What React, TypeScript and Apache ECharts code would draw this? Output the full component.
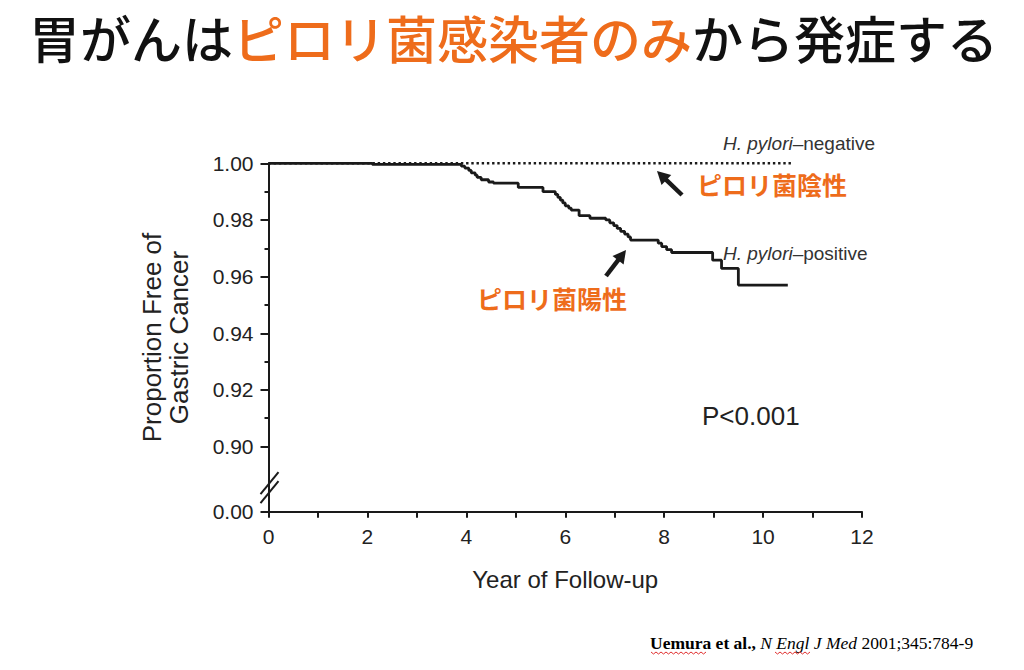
import React, { useEffect, useRef } from "react";
import * as echarts from "echarts";

// ---- data ----
const posYears = [0, 2.1, 3.9, 3.97, 4.05, 4.1, 4.18, 4.22, 4.3, 4.45, 4.55, 5.05, 5.55, 5.8, 5.85, 5.9, 5.95, 6.0, 6.07, 6.12, 6.28, 6.5, 6.82, 6.9, 6.98, 7.05, 7.12, 7.2, 7.27, 7.32, 7.88, 7.95, 8.05, 8.15, 8.98, 9.16, 9.5, 10.5];
const posValues = [1.0, 0.9996, 0.999, 0.9983, 0.9975, 0.9966, 0.9958, 0.995, 0.9942, 0.9934, 0.993, 0.9915, 0.99, 0.989, 0.988, 0.987, 0.986, 0.985, 0.9842, 0.9835, 0.9815, 0.9806, 0.98, 0.979, 0.978, 0.977, 0.976, 0.975, 0.974, 0.9729, 0.9718, 0.9706, 0.9695, 0.9685, 0.9658, 0.9629, 0.957, 0.957];
const negYears = [0, 10.57];
const negValues = [1.0, 1.0];
const yBreakValue = 0.877; // drawn as "0.00" below the axis break
const yMajorTicks = [0.877, 0.9, 0.92, 0.94, 0.96, 0.98, 1.0];
const yMinorTicks = [0.91, 0.93, 0.95, 0.97, 0.99];
const breakMarkValue = 0.885;
const xMin = 0;
const xMax = 12;

const ORANGE = "#EE6C1B";
const INK = "#1a1a1a";
const SANS = "'Liberation Sans', Arial, Helvetica, sans-serif";
const CJK = "'Noto Sans CJK JP', 'Noto Sans', sans-serif";
const SERIF = "'Liberation Serif', 'Times New Roman', serif";

function arrow(x1: number, y1: number, x2: number, y2: number) {
  // tail (x1,y1) -> tip (x2,y2)
  const dx = x2 - x1;
  const dy = y2 - y1;
  const len = Math.sqrt(dx * dx + dy * dy);
  const ux = dx / len;
  const uy = dy / len;
  const headLen = 13;
  const halfW = 7;
  const bx = x2 - ux * headLen;
  const by = y2 - uy * headLen;
  const px = -uy;
  const py = ux;
  return {
    type: "group",
    children: [
      {
        type: "line",
        shape: { x1, y1, x2: bx + ux * 2, y2: by + uy * 2 },
        style: { stroke: INK, lineWidth: 4.5 },
      },
      {
        type: "polygon",
        shape: {
          points: [
            [x2, y2],
            [bx + px * halfW, by + py * halfW],
            [bx - px * halfW, by - py * halfW],
          ],
        },
        style: { fill: INK },
      },
    ],
  };
}

function squiggle(x: number, y: number, w: number) {
  const pts: number[][] = [];
  for (let i = 0; i <= Math.round(w / 2.5); i++) {
    pts.push([x + i * 2.5, y + (i % 2 === 0 ? 0 : 2)]);
  }
  return { type: "polyline", shape: { points: pts }, style: { stroke: "#e03030", lineWidth: 1, fill: "none" } };
}

export default function App() {
  const ref = useRef<HTMLDivElement>(null);

  useEffect(() => {
    if (!ref.current) return;
    const chart = echarts.init(ref.current, null, { renderer: "svg" });

    const option: any = {
      animation: false,
      backgroundColor: "#ffffff",
      title: {
        text: "{a|胃がんは}{b|ピロリ菌感染者のみ}{a|から発症する}",
        left: 24,
        top: 4,
        textStyle: {
          rich: {
            a: { fontSize: 51, fontWeight: 500, fontFamily: CJK, color: "#111111", lineHeight: 56 },
            b: { fontSize: 51, fontWeight: 500, fontFamily: CJK, color: ORANGE, lineHeight: 56 },
          },
        },
      },
      grid: { left: 268.5, right: 162, top: 163.3, bottom: 158.3, containLabel: false },
      xAxis: {
        type: "value",
        min: xMin,
        max: xMax,
        interval: 1,
        name: "Year of Follow-up",
        nameLocation: "middle",
        nameGap: 56,
        nameTextStyle: { fontSize: 24, fontFamily: SANS, color: "#222" },
        axisLine: { show: true, onZero: false, lineStyle: { color: INK, width: 2 } },
        axisTick: { show: true, length: 6, lineStyle: { color: INK, width: 2 } },
        axisLabel: {
          fontSize: 21,
          fontFamily: SANS,
          color: "#222",
          margin: 14,
          formatter: (v: number) => (v % 2 === 0 ? String(v) : ""),
        },
        splitLine: { show: false },
      },
      yAxis: [
        {
          type: "value",
          min: yBreakValue,
          max: 1.0,
          name: "Proportion Free of\nGastric Cancer",
          nameLocation: "middle",
          nameGap: 76,
          nameTextStyle: { fontSize: 26, lineHeight: 27, fontFamily: SANS, color: "#222" },
          axisLine: { show: true, lineStyle: { color: INK, width: 2 } },
          axisTick: { show: true, length: 8, customValues: yMajorTicks, lineStyle: { color: INK, width: 2 } },
          axisLabel: {
            fontSize: 21,
            fontFamily: SANS,
            color: "#222",
            margin: 15,
            customValues: yMajorTicks,
            formatter: (v: number) => (v < 0.89 ? "0.00" : v.toFixed(2)),
          },
          splitLine: { show: false },
        },
        {
          type: "value",
          min: yBreakValue,
          max: 1.0,
          position: "left",
          axisLine: { show: false },
          axisTick: { show: true, length: 4, customValues: yMinorTicks, lineStyle: { color: INK, width: 2 } },
          axisLabel: { show: false },
          splitLine: { show: false },
        },
      ],
      series: [
        {
          name: "H. pylori–negative",
          type: "line",
          yAxisIndex: 0,
          data: negYears.map((x, i) => [x, negValues[i]]),
          showSymbol: false,
          symbol: "none",
          lineStyle: { color: INK, width: 2.6, type: [2.4, 2.8] },
          z: 2,
        },
        {
          name: "H. pylori–positive",
          type: "line",
          yAxisIndex: 0,
          step: "end",
          data: posYears.map((x, i) => [x, posValues[i]]),
          showSymbol: false,
          symbol: "none",
          lineStyle: { color: INK, width: 2.8 },
          z: 3,
        },
      ],
    };

    chart.setOption(option);

    const [ax, ay] = chart.convertToPixel({ xAxisIndex: 0, yAxisIndex: 0 }, [0, breakMarkValue]) as number[];

    const graphics: any[] = [
      // axis break mark "//"
      {
        type: "line",
        shape: { x1: ax - 8, y1: ay + 5, x2: ax + 10, y2: ay - 17 },
        style: { stroke: INK, lineWidth: 2 },
      },
      {
        type: "line",
        shape: { x1: ax - 8, y1: ay + 14, x2: ax + 10, y2: ay - 8 },
        style: { stroke: INK, lineWidth: 2 },
      },
      {
        type: "text",
        x: 723,
        y: 143,
        style: {
          text: "{i|H. pylori}{n|–negative}",
          verticalAlign: "middle",
          rich: {
            i: { fontSize: 19, fontStyle: "italic", fontFamily: SANS, fill: "#333" },
            n: { fontSize: 19, fontFamily: SANS, fill: "#333" },
          },
        },
      },
      {
        type: "text",
        x: 723,
        y: 253,
        style: {
          text: "{i|H. pylori}{n|–positive}",
          verticalAlign: "middle",
          rich: {
            i: { fontSize: 19, fontStyle: "italic", fontFamily: SANS, fill: "#333" },
            n: { fontSize: 19, fontFamily: SANS, fill: "#333" },
          },
        },
      },
      {
        type: "text",
        x: 697,
        y: 184,
        style: { text: "ピロリ菌陰性", fontSize: 25, fontWeight: "bold", fontFamily: CJK, fill: ORANGE, verticalAlign: "middle" },
      },
      {
        type: "text",
        x: 477,
        y: 298,
        style: { text: "ピロリ菌陽性", fontSize: 25, fontWeight: "bold", fontFamily: CJK, fill: ORANGE, verticalAlign: "middle" },
      },
      arrow(682, 195, 657, 171),
      arrow(606, 276, 626, 250),
      {
        type: "text",
        x: 702,
        y: 416,
        style: { text: "P<0.001", fontSize: 26, fontFamily: SANS, fill: "#222", verticalAlign: "middle" },
      },
      {
        type: "text",
        x: 650,
        y: 643,
        style: {
          text: "{b|Uemura et al., }{i|N Engl J Med}{n| 2001;345:784-9}",
          verticalAlign: "middle",
          rich: {
            b: { fontSize: 17.5, fontWeight: "bold", fontFamily: SERIF, fill: "#000" },
            n: { fontSize: 17.5, fontFamily: SERIF, fill: "#000" },
            i: { fontSize: 17.5, fontStyle: "italic", fontFamily: SERIF, fill: "#000" },
          },
        },
      },
      squiggle(651, 652, 56),
      squiggle(775, 652, 34),
    ];

    chart.setOption({ graphic: graphics });

    return () => {
      chart.dispose();
    };
  }, []);

  return (
    <div
      ref={ref}
      style={{ position: "fixed", left: 0, top: 0, width: 1024, height: 670, background: "#fff" }}
    />
  );
}
